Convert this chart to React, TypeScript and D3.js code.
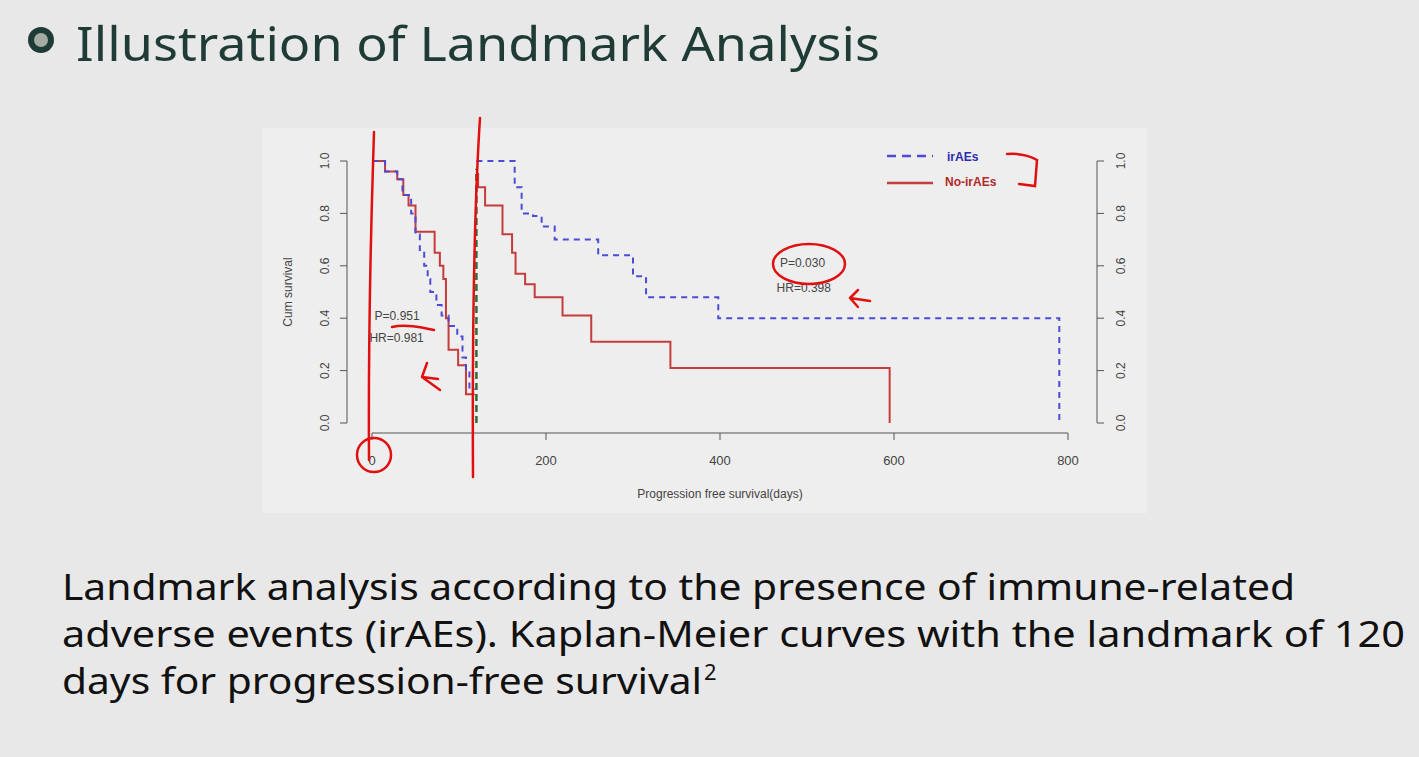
import * as d3 from 'd3';

const xTicks = [0, 200, 400, 600, 800];
const yTicks = [0, 0.2, 0.4, 0.6, 0.8, 1.0];

// [day, survival] step points
const irAEsPre: [number, number][] = [
  [0, 1], [15, 0.96], [29, 0.93], [35, 0.87], [45, 0.8], [50, 0.72], [55, 0.66], [60, 0.6],
  [64, 0.55], [67, 0.5], [74, 0.45], [80, 0.41], [88, 0.37], [98, 0.33], [104, 0.25],
  [108, 0.2], [112, 0.13], [118, 0.13],
];
const noIrAEsPre: [number, number][] = [
  [0, 1], [15, 0.96], [29, 0.93], [36, 0.87], [42, 0.83], [50, 0.73], [72, 0.65], [78, 0.6],
  [82, 0.55], [85, 0.4], [88, 0.28], [99, 0.22], [108, 0.11], [118, 0.11],
];
const irAEsPost: [number, number][] = [
  [120, 1], [164, 0.9], [172, 0.8], [185, 0.79], [195, 0.75], [210, 0.7], [260, 0.64],
  [300, 0.56], [315, 0.48], [398, 0.4], [790, 0.0],
];
const noIrAEsPost: [number, number][] = [
  [120, 0.95], [122, 0.9], [130, 0.83], [150, 0.72], [161, 0.65], [165, 0.57], [176, 0.53],
  [187, 0.48], [219, 0.41], [252, 0.31], [343, 0.21], [595, 0.0],
];
const landmarkDay = 120;
const stats = [
  { label: 'P=0.951', day: 3, surv: 0.395 },
  { label: 'HR=0.981', day: -3, surv: 0.31 },
  { label: 'P=0.030', day: 469, surv: 0.595 },
  { label: 'HR=0.398', day: 465, surv: 0.5 },
];
const caption = [
  'Landmark analysis according to the presence of immune-related',
  'adverse events (irAEs). Kaplan-Meier curves with the landmark of 120',
  'days for progression-free survival',
];
const captionWidths = [1233, 1343, 640];

const x = d3.scaleLinear().domain([0, 800]).range([372, 1068]);
const y = d3.scaleLinear().domain([0, 1]).range([423, 161]);
const step = d3.line<[number, number]>().x(d => x(d[0])).y(d => y(d[1])).curve(d3.curveStepAfter);

export default function App() {
  const blue = '#4b4bd6';
  const red = '#c43c3c';
  const grey = '#555';
  return (
    <svg width={1419} height={757} style={{ position: 'absolute', left: 0, top: 0 }}
      fontFamily="'Liberation Sans', Arial, sans-serif">
      <rect width={1419} height={757} fill="#e9e8e8" />
      <rect x={262} y={128} width={885} height={385} fill="#efeeee" />
      <circle cx={41} cy={40} r={13} fill="#1f3b36" />
      <circle cx={41} cy={40} r={7} fill="#a6aaa4" />
      <text x={76} y={61} fontSize={47} fill="#1f3b36" fontFamily="'Noto Sans', sans-serif"
        textLength={804} lengthAdjust="spacingAndGlyphs">Illustration of Landmark Analysis</text>

      {/* x axis */}
      <line x1={x(0)} x2={x(800)} y1={433} y2={433} stroke={grey} />
      {xTicks.map(t => (
        <g key={t}>
          <line x1={x(t)} x2={x(t)} y1={433} y2={440} stroke={grey} />
          <text x={x(t)} y={465} fontSize={13} fill="#444" textAnchor="middle">{t}</text>
        </g>
      ))}
      <text x={720} y={498} fontSize={12} fill="#444" textAnchor="middle">Progression free survival(days)</text>

      {/* y axes */}
      {[347, 1097].map((ax, i) => (
        <g key={ax}>
          <line x1={ax} x2={ax} y1={y(0)} y2={y(1)} stroke={grey} />
          {yTicks.map(t => (
            <g key={t}>
              <line x1={ax} x2={i === 0 ? ax - 7 : ax + 7} y1={y(t)} y2={y(t)} stroke={grey} />
              <text transform={`translate(${i === 0 ? ax - 18 : ax + 28},${y(t)}) rotate(-90)`}
                fontSize={12} fill="#444" textAnchor="middle">{t.toFixed(1)}</text>
            </g>
          ))}
        </g>
      ))}
      <text transform={`translate(292,${y(0.5)}) rotate(-90)`} fontSize={12} fill="#444" textAnchor="middle">Cum survival</text>

      {/* curves */}
      <path d={step(noIrAEsPre) ?? ''} fill="none" stroke={red} strokeWidth={2} />
      <path d={step(irAEsPre) ?? ''} fill="none" stroke={blue} strokeWidth={2} strokeDasharray="6,5" />
      <path d={step(noIrAEsPost) ?? ''} fill="none" stroke={red} strokeWidth={2} />
      <path d={step(irAEsPost) ?? ''} fill="none" stroke={blue} strokeWidth={2} strokeDasharray="6,5" />
      <line x1={x(landmarkDay)} x2={x(landmarkDay)} y1={y(0)} y2={y(0.97)} stroke="#2f6b3a" strokeWidth={2.5} strokeDasharray="7,4" />

      {stats.map(s => (
        <text key={s.label} x={x(s.day)} y={y(s.surv)} fontSize={12} fill="#444">{s.label}</text>
      ))}

      {/* legend */}
      <line x1={887} x2={933} y1={156} y2={156} stroke={blue} strokeWidth={2.5} strokeDasharray="9,6" />
      <text x={947} y={161} fontSize={12} fontWeight="bold" fill="#2b2bb0">irAEs</text>
      <line x1={887} x2={933} y1={183} y2={183} stroke={red} strokeWidth={2.5} />
      <text x={945} y={186} fontSize={12} fontWeight="bold" fill="#b02a2a">No-irAEs</text>

      {/* handwritten annotations */}
      <g fill="none" stroke="#e01010" strokeWidth={2.5} strokeLinecap="round">
        <path d="M374,132 C372,200 368,300 369,460" />
        <path d="M480,118 C476,180 472,300 473,477" />
        <ellipse cx={374} cy={455} rx={17} ry={17} />
        <path d="M392,327 C405,324 420,327 434,330" />
        <path d="M422,377 L438,379 M422,377 L427,363 M422,377 L440,390" />
        <ellipse cx={809} cy={264} rx={36} ry={20} />
        <path d="M850,298 L870,301 M850,298 L858,290 M850,298 L858,307" />
        <path d="M1007,154 C1020,153 1030,156 1037,160 L1035,186 L1019,184" />
      </g>

      {caption.map((c, i) => (
        <g key={i}>
          <text x={62} y={600 + i * 47} fontSize={37} fill="#111" fontFamily="'Noto Sans', sans-serif"
            textLength={captionWidths[i]} lengthAdjust="spacingAndGlyphs">{c}</text>
          {i === 2 && <text x={62 + captionWidths[i] + 2} y={600 + i * 47 - 14} fontSize={22} fill="#111"
            fontFamily="'Noto Sans', sans-serif">2</text>}
        </g>
      ))}
    </svg>
  );
}
